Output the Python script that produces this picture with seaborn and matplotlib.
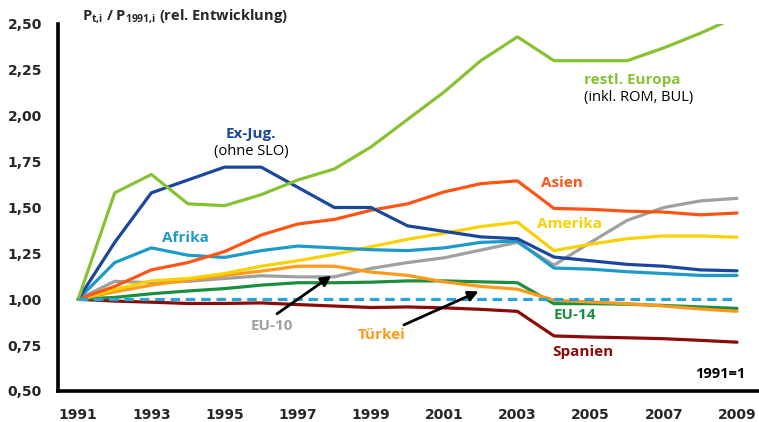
import numpy as np
import pandas as pd
import matplotlib
matplotlib.use("Agg")
import matplotlib.pyplot as plt
import seaborn as sns
from matplotlib.ticker import FuncFormatter, MultipleLocator

# --- Daten (1991 = 1) ---
jahre = list(range(1991, 2010))

restl_europa = [1.00, 1.58, 1.68, 1.52, 1.51, 1.57, 1.65, 1.71, 1.83, 1.98,
                2.13, 2.30, 2.43, 2.30, 2.30, 2.30, 2.37, 2.45, 2.54]
ex_jug = [1.00, 1.31, 1.58, 1.65, 1.72, 1.72, 1.61, 1.50, 1.50, 1.40,
          1.37, 1.34, 1.33, 1.23, 1.21, 1.19, 1.18, 1.16, 1.155]
asien = [1.00, 1.07, 1.16, 1.20, 1.26, 1.35, 1.41, 1.435, 1.485, 1.52,
         1.585, 1.63, 1.645, 1.495, 1.49, 1.48, 1.475, 1.46, 1.47]
afrika = [1.00, 1.20, 1.28, 1.24, 1.228, 1.265, 1.29, 1.28, 1.27, 1.265,
          1.28, 1.31, 1.317, 1.17, 1.164, 1.15, 1.14, 1.13, 1.13]
amerika = [1.00, 1.053, 1.10, 1.113, 1.14, 1.18, 1.21, 1.245, 1.286, 1.327,
           1.36, 1.396, 1.42, 1.265, 1.30, 1.33, 1.345, 1.345, 1.338]
eu10 = [1.00, 1.098, 1.09, 1.098, 1.113, 1.128, 1.122, 1.122, 1.168, 1.20,
        1.226, 1.268, 1.31, 1.186, 1.31, 1.43, 1.50, 1.536, 1.55]
tuerkei = [1.00, 1.04, 1.077, 1.104, 1.13, 1.153, 1.18, 1.18, 1.148, 1.13,
           1.095, 1.07, 1.055, 0.995, 0.985, 0.976, 0.963, 0.947, 0.934]
eu14 = [1.00, 1.01, 1.03, 1.045, 1.058, 1.077, 1.09, 1.09, 1.093, 1.10,
        1.10, 1.095, 1.09, 0.976, 0.976, 0.973, 0.966, 0.958, 0.95]
spanien = [1.00, 0.99, 0.984, 0.977, 0.977, 0.98, 0.971, 0.963, 0.955, 0.958,
           0.953, 0.945, 0.934, 0.80, 0.794, 0.79, 0.785, 0.776, 0.766]

reihen = {
    "EU-10": eu10,
    "Spanien": spanien,
    "EU-14": eu14,
    "Türkei": tuerkei,
    "Amerika": amerika,
    "Afrika": afrika,
    "Asien": asien,
    "Ex-Jug.": ex_jug,
    "restl. Europa": restl_europa,
}
farben = {
    "restl. Europa": "#86c232",
    "Ex-Jug.": "#1a479d",
    "Asien": "#ff5514",
    "Afrika": "#1d9ac8",
    "Amerika": "#f8d200",
    "EU-10": "#a0a0a0",
    "Türkei": "#ff9a1a",
    "EU-14": "#1a8f3e",
    "Spanien": "#8b0a0a",
}

df = pd.DataFrame(
    [(j, name, v) for name, werte in reihen.items() for j, v in zip(jahre, werte)],
    columns=["Jahr", "Region", "Wert"],
)

# --- Plot ---
sns.set_style("white")
plt.rcParams["font.family"] = ["DejaVu Sans"]
plt.rcParams["mathtext.fontset"] = "custom"
plt.rcParams["mathtext.rm"] = "Open Sans"
plt.rcParams["mathtext.bf"] = "Open Sans:bold"

fig = plt.figure(figsize=(7.59, 4.22), dpi=100)
ax = fig.add_axes([58 / 759, 1 - 391 / 422, 1 - 58 / 759, (391 - 24) / 422])

sns.lineplot(data=df, x="Jahr", y="Wert", hue="Region", palette=farben,
             linewidth=2.3, legend=False, ax=ax)
ax.hlines(1.0, jahre[0], jahre[-1], colors="#2aa4d5", linestyles=(0, (3, 1.8)),
          linewidth=2.3, zorder=3)

ax.set_xlim(1990.45, 2009.6)
ax.set_ylim(0.5, 2.5)
ax.yaxis.set_major_locator(MultipleLocator(0.25))
ax.yaxis.set_major_formatter(FuncFormatter(lambda v, p: f"{v:.2f}".replace(".", ",")))
ax.set_xticks(jahre)
ax.set_xticklabels([str(j) if j % 2 == 1 else "" for j in jahre])
ax.set_xlabel("")
ax.set_ylabel("")

for s in ["top", "right"]:
    ax.spines[s].set_visible(False)
for s in ["left", "bottom"]:
    ax.spines[s].set_linewidth(2.6)
    ax.spines[s].set_color("black")

ax.tick_params(axis="both", which="major", direction="out", length=3.5, width=2.5,
               color="black", labelsize=10, pad=8)
ax.tick_params(axis="x", pad=9)
for lab in ax.get_xticklabels() + ax.get_yticklabels():
    lab.set_fontweight("bold")

# Achsentitel
fig.text(82 / 759, 1 - 17 / 422,
         r"$\mathbf{P}_{\mathbf{t{,}i}}$ / $\mathbf{P}_{\mathbf{1991{,}i}}$ (rel. Entwicklung)",
         fontsize=10.5, fontweight="bold", family="Open Sans", ha="left", va="center")

# Beschriftungen
fs = 11
fs_n = 10.5
lab_font = "Open Sans"
ax.text(1995.72, 1.898, "Ex-Jug.", color=farben["Ex-Jug."], fontsize=fs,
        fontweight="bold", family=lab_font, ha="center", va="center")
ax.text(1995.72, 1.805, "(ohne SLO)", color="black", fontsize=fs_n,
        family=lab_font, ha="center", va="center")
ax.text(2004.83, 2.193, "restl. Europa", color=farben["restl. Europa"], fontsize=fs,
        fontweight="bold", family=lab_font, ha="left", va="center")
ax.text(2004.83, 2.10, "(inkl. ROM, BUL)", color="black", fontsize=fs_n,
        family=lab_font, ha="left", va="center")
ax.text(2003.65, 1.635, "Asien", color=farben["Asien"], fontsize=fs,
        fontweight="bold", family=lab_font, ha="left", va="center")
ax.text(1993.29, 1.334, "Afrika", color=farben["Afrika"], fontsize=fs,
        fontweight="bold", family=lab_font, ha="left", va="center")
ax.text(2003.54, 1.41, "Amerika", color=farben["Amerika"], fontsize=fs,
        fontweight="bold", family=lab_font, ha="left", va="center")
ax.text(1995.72, 0.852, "EU-10", color=farben["EU-10"], fontsize=fs,
        fontweight="bold", family=lab_font, ha="left", va="center")
ax.text(1998.64, 0.803, "Türkei", color=farben["Türkei"], fontsize=fs,
        fontweight="bold", family=lab_font, ha="left", va="center")
ax.text(2003.98, 0.912, "EU-14", color=farben["EU-14"], fontsize=fs,
        fontweight="bold", family=lab_font, ha="left", va="center")
ax.text(2003.95, 0.71, "Spanien", color=farben["Spanien"], fontsize=fs,
        fontweight="bold", family=lab_font, ha="left", va="center")
ax.text(2009.22, 0.59, "1991=1", color="black", fontsize=fs_n,
        fontweight="bold", family=lab_font, ha="right", va="center")

# Pfeile
pfeil = dict(arrowstyle="-|>,head_length=0.6,head_width=0.3", color="black", lw=2)
ax.annotate("", xy=(1997.98, 1.137), xytext=(1996.37, 0.912), arrowprops=pfeil)
ax.annotate("", xy=(2002.01, 1.049), xytext=(1999.83, 0.854), arrowprops=pfeil)

fig.savefig("out.png", dpi=100)
